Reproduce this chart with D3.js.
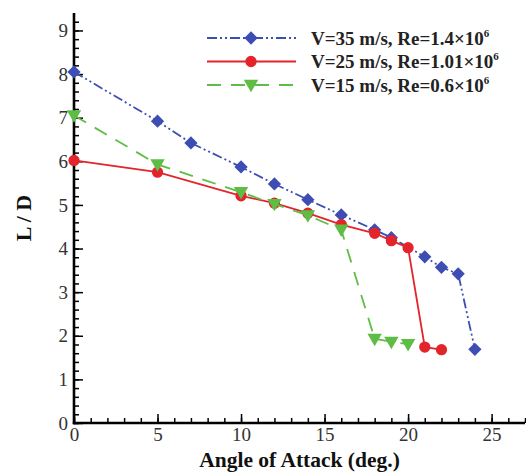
<!DOCTYPE html>
<html><head><meta charset="utf-8">
<script src="https://cdn.jsdelivr.net/npm/d3@7"></script>
<style>body{margin:0;background:#fff}svg{display:block}</style>
</head><body>
<svg id="c" width="526" height="473"></svg>
<script>
const xTicks = [0, 5, 10, 15, 20, 25];
const yTicks = [0, 1, 2, 3, 4, 5, 6, 7, 8, 9];
const aoa35 = [0, 5, 7, 10, 12, 14, 16, 18, 19, 21, 22, 23, 24];
const ld35  = [8.05, 6.92, 6.42, 5.87, 5.48, 5.12, 4.77, 4.43, 4.25, 3.81, 3.57, 3.42, 1.69];
const aoa25 = [0, 5, 10, 12, 14, 16, 18, 19, 20, 21, 22];
const ld25  = [6.02, 5.75, 5.21, 5.04, 4.81, 4.55, 4.35, 4.18, 4.02, 1.74, 1.68];
const aoa15 = [0, 5, 10, 12, 14, 16, 18, 19, 20];
const ld15  = [7.05, 5.93, 5.29, 5.02, 4.76, 4.43, 1.93, 1.86, 1.81];
const legendLabels = ["V=35 m/s, Re=1.4\u00d710", "V=25 m/s, Re=1.01\u00d710", "V=15 m/s, Re=0.6\u00d710"];

const series = [
  {x: aoa35, y: ld35, color: "#3d4db3", dash: "10,3,2,3,2,3", sym: d3.symbolSquare, size: 88, rot: 45, dy: 0, label: legendLabels[0]},
  {x: aoa25, y: ld25, color: "#e3242b", dash: null, sym: d3.symbolCircle, size: 100, rot: 0, dy: 0, label: legendLabels[1]},
  {x: aoa15, y: ld15, color: "#5dbd45", dash: "14,10", sym: d3.symbolTriangle, size: 90, rot: 180, dy: -1, label: legendLabels[2]}
];

const svg = d3.select("#c");
const x = d3.scaleLinear().domain([0, 27]).range([74, 525]);
const y = d3.scaleLinear().domain([0, 9.4]).range([423, 13]);
const serif = "'Liberation Serif','Times New Roman',serif";

// minor ticks
svg.append("g").attr("transform", `translate(0,${y(0)})`)
  .call(d3.axisBottom(x).tickValues(d3.range(0, 28, 1)).tickSize(-5).tickFormat(""))
  .call(g => g.select(".domain").remove())
  .selectAll("line").attr("stroke", "#000").attr("stroke-width", 1.5);
svg.append("g").attr("transform", `translate(${x(0)},0)`)
  .call(d3.axisLeft(y).tickValues(d3.range(0, 47, 1).map(v => v / 5)).tickSize(-5).tickFormat(""))
  .call(g => g.select(".domain").remove())
  .selectAll("line").attr("stroke", "#000").attr("stroke-width", 1.5);

// major ticks + labels
const xa = svg.append("g").attr("transform", `translate(0,${y(0)})`)
  .call(d3.axisBottom(x).tickValues(xTicks).tickSize(-9).tickPadding(5).tickFormat(d3.format("d")));
xa.select(".domain").remove();
xa.selectAll("line").attr("stroke", "#000").attr("stroke-width", 1.5);
xa.selectAll("text").attr("font-family", serif).attr("font-size", 19).attr("fill", "#333");

const ya = svg.append("g").attr("transform", `translate(${x(0)},0)`)
  .call(d3.axisLeft(y).tickValues(yTicks).tickSize(-9).tickPadding(6).tickFormat(d3.format("d")));
ya.select(".domain").remove();
ya.selectAll("line").attr("stroke", "#000").attr("stroke-width", 1.5);
ya.selectAll("text").attr("font-family", serif).attr("font-size", 19).attr("fill", "#333");

// axis lines
svg.append("line").attr("x1", x(0)).attr("x2", x(0)).attr("y1", y(9.4)).attr("y2", y(0) + 1.2)
  .attr("stroke", "#000").attr("stroke-width", 2.6);
svg.append("line").attr("x1", x(0) - 1.2).attr("x2", x(27)).attr("y1", y(0)).attr("y2", y(0))
  .attr("stroke", "#000").attr("stroke-width", 2.6);

// lines & markers
const line = d3.line().x(d => x(d[0])).y(d => y(d[1]));
series.forEach(s => {
  const pts = s.x.map((v, i) => [v, s.y[i]]);
  svg.append("path").datum(pts).attr("d", line).attr("fill", "none")
    .attr("stroke", s.color).attr("stroke-width", 1.8)
    .attr("stroke-dasharray", s.dash);
  svg.append("g").selectAll("path").data(pts).join("path")
    .attr("d", d3.symbol().type(s.sym).size(s.size))
    .attr("transform", d => `translate(${x(d[0])},${y(d[1]) + s.dy}) rotate(${s.rot})`)
    .attr("fill", s.color);
});

// legend
const lg = svg.append("g");
series.forEach((s, i) => {
  const ly = 38 + i * 23.5;
  lg.append("line").attr("x1", 207).attr("x2", 296).attr("y1", ly).attr("y2", ly)
    .attr("stroke", s.color).attr("stroke-width", 1.8).attr("stroke-dasharray", s.dash);
  lg.append("path").attr("d", d3.symbol().type(s.sym).size(s.size)())
    .attr("transform", `translate(251,${ly + s.dy}) rotate(${s.rot})`).attr("fill", s.color);
  const t = lg.append("text").attr("x", 311).attr("y", ly + 6.5)
    .attr("font-family", serif).attr("font-weight", "bold").attr("font-size", 19).attr("fill", "#222");
  t.append("tspan").text(s.label);
  t.append("tspan").attr("font-size", 11).attr("dy", -8).text("6");
});

// axis titles
svg.append("text").attr("x", (x(0) + x(27)) / 2).attr("y", 467).attr("text-anchor", "middle")
  .attr("font-family", serif).attr("font-weight", "bold").attr("font-size", 21.5).attr("fill", "#111")
  .text("Angle of Attack (deg.)");
svg.append("text").attr("transform", `translate(31,${(y(0) + y(9.4)) / 2}) rotate(-90)`)
  .attr("text-anchor", "middle")
  .attr("font-family", serif).attr("font-weight", "bold").attr("font-size", 22).attr("fill", "#111")
  .text("L / D");
</script>
</body></html>
